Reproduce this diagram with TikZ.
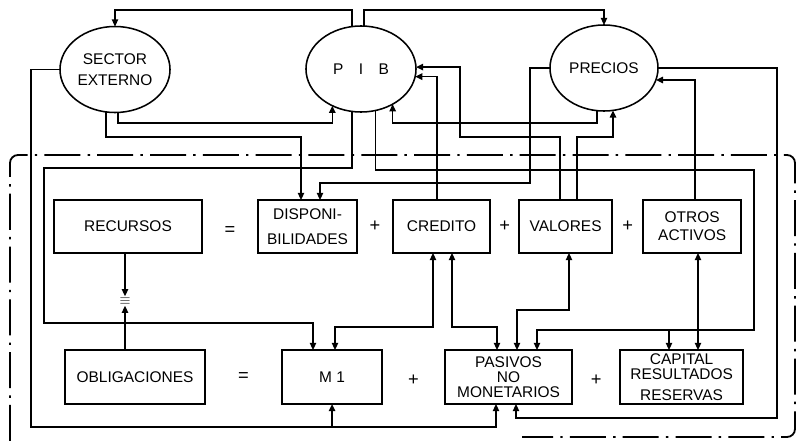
\documentclass[tikz,border=0pt]{standalone}
\usepackage{fontspec}
\setmainfont{Liberation Sans}
\usetikzlibrary{positioning,arrows.meta,shapes.geometric,calc}

\begin{document}
\begin{tikzpicture}[x=0.025cm,y=-0.025cm,font=\fontsize{11}{13}\selectfont,line width=1.1pt,
 >={Triangle[length=1.8mm,width=1.6mm]},
 box/.style={draw,rectangle,inner sep=2pt,outer sep=0pt,align=center,minimum height=1.325cm},
 blob/.style={draw,ellipse,inner sep=0pt,outer sep=0pt,align=center,minimum width=2.75cm,minimum height=2.15cm},
 sign/.style={inner sep=1pt,font=\fontsize{13}{13}\selectfont},
 frame/.style={line width=1.3pt,rounded corners=0.2cm,dash pattern=on 0.9cm off 0.18cm on 0.06cm off 0.18cm}]
\useasboundingbox (0,0) rectangle (798,441);
\draw[frame] (10,441) |- (795,155) -- (795,437) -- (522,437);

\node[blob] (se) at (115,69.5) {SECTOR\\[2pt]EXTERNO};
\node[blob] (pib) at (361,69) {P\quad I\quad B};
\node[blob,minimum width=2.7cm] (precios) at (604,68) {PRECIOS};

\node[box,minimum width=3.7cm] (recursos) at (128,226.5) {RECURSOS};
\node[box,minimum width=2.475cm,right=1.4cm of recursos] (disp) {DISPONI-\\[4.8pt]BILIDADES};
\node[box,minimum width=2.425cm,right=0.9cm of disp] (credito) {CREDITO};
\node[box,minimum width=2.325cm,right=0.725cm of credito] (valores) {VALORES};
\node[box,minimum width=2.45cm,right=0.775cm of valores] (otros) {OTROS\\ACTIVOS};

\node[box,minimum width=3.5cm,minimum height=1.35cm] (obligaciones) at (135,377) {OBLIGACIONES};
\node[box,minimum width=2.5cm,minimum height=1.35cm,right=1.925cm of obligaciones] (m1) {M 1};
\node[box,minimum width=3.175cm,minimum height=1.35cm,right=1.575cm of m1] (pasivos) {PASIVOS\\[-2.3pt]NO\\[-2.3pt]MONETARIOS};
\node[box,minimum width=3.075cm,minimum height=1.35cm,right=1.2cm of pasivos] (capital) {CAPITAL\\[-2pt]RESULTADOS\\[2pt]RESERVAS};

\node[sign] (eqa) at ($(recursos.east)!.5!(disp.west)+(0,5)$) {=};
\node[sign] (pla) at ($(disp.east)!.5!(credito.west)$) {+};
\node[sign] (plb) at ($(credito.east)!.5!(valores.west)$) {+};
\node[sign] (plc) at ($(valores.east)!.5!(otros.west)$) {+};
\node[sign] (eqb) at ($(obligaciones.east)!.5!(m1.west)$) {=};
\node[sign] (pld) at ($(m1.east)!.5!(pasivos.west)+(0,3)$) {+};
\node[sign] (ple) at ($(pasivos.east)!.5!(capital.west)+(0,3)$) {+};
\node[inner sep=0.5pt,font=\fontsize{10}{10}\selectfont] (equiv) at (125,301) {$\equiv$};

\coordinate (busS) at (31,427);
\coordinate (busE) at (754,330);

\draw[->] (pib.102) -- (pib.102 |- 0,10) -| (se.north);
\draw[->] (pib.86) -- (pib.86 |- 0,10) -| (precios.north);

\draw[->] (se.west) -| (busS) -| (pasivos.south -| 496,0);
\draw[->] (busS -| m1.south) -- (m1.south);
\draw[->] (se.-102) |- (301,137) -- (disp.north -| 301,0);
\draw[->] (se.-86) -- (se.-86 |- 0,123) -| (pib.-128);

\draw[->] (pib.-102) |- (44,168) |- (313,323) -- (m1.north -| 313,0);
\draw[->] (pib.-71) |- (754,170) |- (busE) -| (pasivos.north -| 537,0);
\draw[->] (busE -| 669,0) -- (capital.north -| 669,0);

\draw[->] (precios.-99) -- (precios.-99 |- 0,123) -| (pib.-48);
\draw[->] (precios.west) -| (530,183) -| (disp.north -| 320,0);
\draw[->] (precios.east) -| (777,418) -| (pasivos.south -| 516,0);

\draw[->] (credito.north -| 437,0) |- (pib.-8);
\draw[<->] (credito.south -| 433,0) |- (335,327) -- (m1.north -| 335,0);
\draw[<->] (credito.south -| 452,0) |- (497,327) -- (pasivos.north -| 497,0);

\draw[->] (valores.north -| 560,0) |- (460,137) |- (pib.2);
\draw[->] (valores.north -| 577,0) |- (precios.-78 |- 0,137) -- (precios.-78);
\draw[<->] (valores.south -| 569,0) |- (517,310) -- (pasivos.north -| 517,0);

\draw[->] (otros.north -| 695,0) |- (precios.-13);
\draw[<->] (otros.south -| 698,0) -- (capital.north -| 698,0);

\draw[->] (recursos.south -| equiv) -- (equiv.north);
\draw[->] (obligaciones.north -| equiv) -- (equiv.south);
\end{tikzpicture}
\end{document}
